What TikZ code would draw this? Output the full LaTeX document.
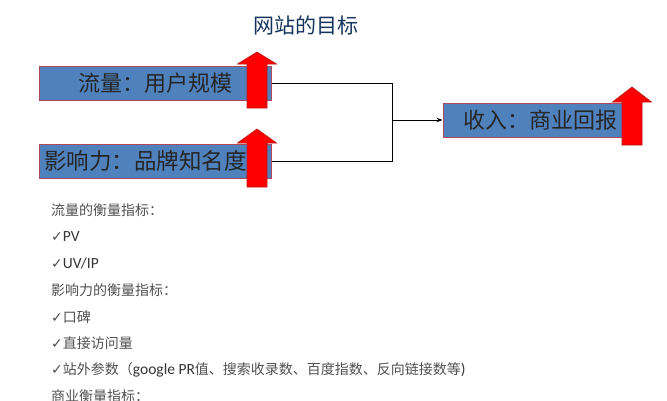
\documentclass[tikz,border=0pt]{standalone}
\usepackage{fontspec}
\setmainfont{Noto Sans CJK SC}
\newfontfamily\lat{Carlito}
\newfontfamily\symf{DejaVu Sans}
\usetikzlibrary{arrows.meta}
\definecolor{boxblue}{RGB}{79,129,189}
\definecolor{boxedge}{RGB}{176,72,90}
\definecolor{arrred}{RGB}{255,0,0}
\definecolor{arredge}{RGB}{185,20,20}
\definecolor{titlecol}{RGB}{23,54,93}
\definecolor{listcol}{RGB}{80,80,80}
\newcommand\redup[4]{%
  \draw[redarrow] ({#1-10},#4) -- ({#1-10},#3) -- ({#1-19.5},#3) -- (#1,#2)
    -- ({#1+19.5},#3) -- ({#1+10},#3) -- ({#1+10},#4) -- cycle;}
\newcommand\ck{{\symf\char"2713}}
\newcommand\lt[1]{{\lat\fontsize{15.5}{16}\selectfont\color{black!80}#1}}
\tikzset{
  goalbox/.style={draw=boxedge, line width=1pt, fill=boxblue, minimum height=34pt,
    inner sep=0pt, font=\fontsize{22}{24}\selectfont, text=black!85},
  redarrow/.style={fill=arrred, draw=arredge, line width=0.6pt},
  conn/.style={draw=black, line width=1pt},
  listitem/.style={anchor=west, inner sep=0pt, text=listcol, font=\fontsize{14}{16}\selectfont},
}
\begin{document}
\begin{tikzpicture}[x=1pt, y=-1pt]
\useasboundingbox (0,0) rectangle (667,400);
\node[font=\fontsize{21}{24}\selectfont, text=titlecol] (title) at (306,25) {网站的目标};

\node[goalbox, minimum width=232pt] (traffic) at (155,83) {流量：用户规模};
\node[goalbox, minimum width=232pt, font=\fontsize{22.5}{25}\selectfont] (influence) at (155,161) {\hspace*{-19pt}影响力：品牌知名度};
\node[goalbox, minimum width=184pt] (revenue) at (535,120) {\hspace*{10pt}收入：商业回报};

\coordinate (j1) at (392,83);
\coordinate (j2) at (392,161);
\coordinate (jm) at (392,120);
\draw[conn] (traffic.east) -- (j1) -- (j2) -- (influence.east);
\draw[conn, -{Stealth[length=6pt,width=4.5pt]}] (jm) -- (revenue.west);

\redup{257}{52}{64}{108}
\redup{257}{129}{143}{187}
\redup{632}{87}{102}{145}

\node[listitem] (l1) at (51,210) {流量的衡量指标：};
\node[listitem] (l2) at (51,237) {\ck\lt{PV}};
\node[listitem] (l3) at (51,263) {\ck\lt{UV/IP}};
\node[listitem] (l4) at (51,290) {影响力的衡量指标：};
\node[listitem] (l5) at (51,317) {\ck 口碑};
\node[listitem] (l6) at (51,343) {\ck 直接访问量};
\node[listitem] (l7) at (51,370) {\ck 站外参数（\lt{google PR}值、搜索收录数、百度指数、反向链接数等\lt{)}};
\node[listitem] (l8) at (51,396) {商业衡量指标：};
\end{tikzpicture}
\end{document}
